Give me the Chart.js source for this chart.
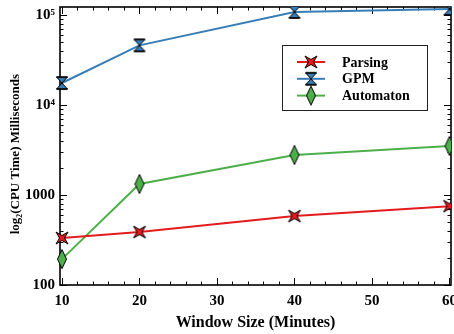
<!DOCTYPE html>
<html><head><meta charset="utf-8">
<script src="https://cdn.jsdelivr.net/npm/chart.js@4/dist/chart.umd.min.js"></script>
<style>html,body{margin:0;padding:0;background:#fff}#w{width:454px;height:334px}</style>
</head><body><div id="w"><canvas id="c" width="454" height="334"></canvas></div>
<script>
const windowSizes = [10, 20, 40, 60];
const parsing = [333, 388, 584, 752];
const gpm = [17550, 46000, 108000, 116600];
const automaton = [194, 1325, 2783, 3504];
const seriesNames = ['Parsing', 'GPM', 'Automaton'];
const seriesColors = ['#e41a1c', '#377eb8', '#4daf4a'];
const xTickLabels = [10, 20, 30, 40, 50, 60];
const yTickLabels = {100: '100', 1000: '1000', 10000: '10\u2074', 100000: '10\u2075'};

function marker(kind, color) {
  const c = document.createElement('canvas');
  const W = kind === 'diamond' ? 12 : 16, H = kind === 'diamond' ? 22 : 16;
  c.width = W; c.height = H;
  const g = c.getContext('2d');
  g.translate(W / 2, H / 2);
  g.beginPath();
  let p;
  if (kind === 'x') p = [[-6,-6],[0,-2.5],[6,-6],[2.5,0],[6,6],[0,2.5],[-6,6],[-2.5,0]];
  else if (kind === 'hour') p = [[-5.5,-6],[5.5,-6],[0,0],[5.5,6],[-5.5,6],[0,0]];
  else p = [[0,-9.5],[4.5,0],[0,9.5],[-4.5,0]];
  p.forEach((q, i) => i ? g.lineTo(q[0], q[1]) : g.moveTo(q[0], q[1]));
  g.closePath();
  g.fillStyle = color; g.fill();
  g.lineWidth = 1; g.strokeStyle = '#000'; g.stroke();
  if (kind === 'hour') {
    g.beginPath(); g.moveTo(-5.5,-6); g.lineTo(5.5,-6); g.moveTo(-5.5,6); g.lineTo(5.5,6);
    g.lineWidth = 1.5; g.stroke();
  }
  return c;
}
const markers = [marker('x', seriesColors[0]), marker('hour', seriesColors[1]), marker('diamond', seriesColors[2])];
const values = [parsing, gpm, automaton];

const serif = "'Liberation Serif', 'Times New Roman', serif";

const framePlugin = {
  id: 'frame',
  beforeDatasetsDraw(chart) {
    const {ctx, chartArea: a, scales: {x, y}} = chart;
    ctx.save();
    ctx.strokeStyle = '#000';
    ctx.lineWidth = 1;
    x.ticks.forEach(t => {
      const px = Math.round(x.getPixelForValue(t.value)) + 0.5;
      const len = t.major ? 7 : 3.5;
      ctx.beginPath();
      ctx.moveTo(px, a.bottom); ctx.lineTo(px, a.bottom - len);
      ctx.moveTo(px, a.top); ctx.lineTo(px, a.top + len);
      ctx.stroke();
    });
    y.ticks.forEach(t => {
      const py = Math.round(y.getPixelForValue(t.value)) + 0.5;
      const len = t.major ? 7 : 3.5;
      ctx.beginPath();
      ctx.moveTo(a.left, py); ctx.lineTo(a.left + len, py);
      ctx.moveTo(a.right, py); ctx.lineTo(a.right - len, py);
      ctx.stroke();
    });
    ctx.lineWidth = 1.6;
    ctx.strokeRect(a.left, a.top, a.right - a.left, a.bottom - a.top);
    ctx.restore();
  },
  afterDraw(chart) {
    const {ctx} = chart;
    ctx.save();
    const bx = 282, by = 45, bw = 145, bh = 65;
    ctx.fillStyle = '#fff';
    ctx.fillRect(bx, by, bw, bh);
    ctx.strokeStyle = '#222'; ctx.lineWidth = 1;
    ctx.strokeRect(bx + 0.5, by + 0.5, bw, bh);
    chart.data.datasets.forEach((ds, i) => {
      const yy = 62 + i * 16.8;
      ctx.strokeStyle = ds.borderColor; ctx.lineWidth = 2;
      ctx.beginPath(); ctx.moveTo(297, yy); ctx.lineTo(325, yy); ctx.stroke();
      const img = ds.pointStyle;
      ctx.drawImage(img, 311 - img.width / 2, yy - img.height / 2);
      ctx.fillStyle = '#000';
      ctx.font = 'bold 14px ' + serif;
      ctx.textBaseline = 'middle';
      ctx.fillText(ds.label, 342, yy + 1);
    });
    ctx.restore();
  }
};

new Chart(document.getElementById('c'), {
  type: 'line',
  data: {
    datasets: seriesNames.map((n, i) => ({
      label: n,
      data: windowSizes.map((w, j) => ({x: w, y: values[i][j]})),
      borderColor: seriesColors[i],
      backgroundColor: seriesColors[i],
      borderWidth: 2,
      pointStyle: markers[i],
      pointRadius: 6,
      tension: 0,
      clip: {left: 20, top: 0, right: 0, bottom: 20}
    }))
  },
  options: {
    responsive: false,
    animation: false,
    devicePixelRatio: 1,
    layout: {autoPadding: false, padding: {top: 7, right: 3, left: 0, bottom: 0}},
    plugins: {legend: {display: false}, tooltip: {enabled: false}},
    scales: {
      x: {
        type: 'linear', min: 9.75, max: 60.2,
        afterBuildTicks(s) {
          const t = [];
          for (let v = 10; v <= 60; v += 2) t.push({value: v, major: v % 10 === 0});
          s.ticks = t;
        },
        afterFit(s) { s.height = 49; s.paddingLeft = 0; s.paddingRight = 0; },
        grid: {display: false, drawTicks: false},
        border: {display: false},
        ticks: {
          autoSkip: false, maxRotation: 0, padding: 7, color: '#000',
          font: {family: serif, size: 15, weight: 'bold'},
          callback: v => xTickLabels.includes(v) ? String(v) : ''
        },
        title: {display: true, text: 'Window Size (Minutes)', color: '#000',
          font: {family: serif, size: 16, weight: 'bold'}, padding: {top: 0, bottom: 2}}
      },
      y: {
        type: 'logarithmic', min: 100, max: 122700,
        afterBuildTicks(s) {
          const t = [];
          for (let d = 100; d <= 100000; d *= 10)
            for (let m = 1; m <= 9; m++) {
              const v = d * m;
              if (v >= 100 && v <= 122700) t.push({value: v, major: m === 1});
            }
          s.ticks = t;
        },
        afterFit(s) { s.width = 60; s.paddingTop = 0; s.paddingBottom = 0; },
        grid: {display: false, drawTicks: false},
        border: {display: false},
        ticks: {
          autoSkip: false, padding: 5, color: '#000',
          font: {family: serif, size: 15, weight: 'bold'},
          callback: v => yTickLabels[v] || ''
        },
        title: {display: true, text: 'log\u2082(CPU Time) Milliseconds     ', color: '#000',
          font: {family: serif, size: 13, weight: 'bold'}, padding: {top: 8, bottom: 0}}
      }
    }
  },
  plugins: [framePlugin]
});
</script></body></html>
